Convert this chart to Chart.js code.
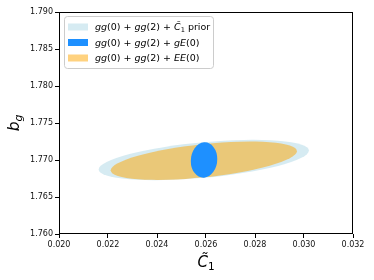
<!DOCTYPE html>
<html><head><meta charset="utf-8">
<script src="https://cdn.jsdelivr.net/npm/chart.js@4/dist/chart.umd.min.js"></script>
<style>html,body{margin:0;padding:0;background:#fff;} canvas{display:block;}</style>
</head><body>
<canvas id="c" width="374" height="280"></canvas>
<script>
// ---- data ----
const seriesLabels = ['gg(0) + gg(2) + C\u0303_1 prior', 'gg(0) + gg(2) + gE(0)', 'gg(0) + gg(2) + EE(0)'];
const seriesColors = ['rgba(173,216,230,0.5)', '#1e90ff', 'rgba(255,165,0,0.5)'];
const centerC1 = [0.02591, 0.02592, 0.02591];   // ellipse centre, C~1
const centerBg = [1.7700, 1.7700, 1.7699];      // ellipse centre, b_g
const halfC1 = [0.00429, 0.00054, 0.00380];     // half extent along C~1
const halfBg = [0.00273, 0.00239, 0.00259];     // half extent along b_g
const corr = [0.47, 0.05, 0.50];                // correlation coefficient
const drawOrder = [0, 2, 1];
const xTicks = [0.020, 0.022, 0.024, 0.026, 0.028, 0.030, 0.032];
const yTicks = [1.760, 1.765, 1.770, 1.775, 1.780, 1.785, 1.790];

const FONT = "'DejaVu Sans'";

function parseMath(s){
  const runs = [];
  const re = /(prior)|([A-Za-z]\u0303?)|(_\d)|([^A-Za-z_]+)/g;
  let m;
  while((m = re.exec(s))){
    if(m[1]) runs.push({t:m[1], it:false});
    else if(m[2]) runs.push({t:m[2], it:true});
    else if(m[3]) runs.push({t:m[3].slice(1), it:false, sub:true});
    else runs.push({t:m[4], it:false});
  }
  return runs;
}
function drawRuns(ctx, runs, x, y, size, color, measureOnly){
  let cx = x;
  for(const r of runs){
    const fs = r.sub ? size*0.7 : size;
    ctx.font = (r.it ? 'italic ' : '') + fs + 'px ' + FONT;
    const w = ctx.measureText(r.t).width;
    if(!measureOnly){
      ctx.fillStyle = color;
      ctx.fillText(r.t, cx, r.sub ? y + size*0.22 : y);
    }
    cx += w;
  }
  return cx - x;
}

const ellipsePlugin = {
  id: 'ellipses',
  beforeDatasetsDraw(chart){
    const {ctx, chartArea:a, scales:{x, y}} = chart;
    ctx.save();
    ctx.beginPath(); ctx.rect(a.left, a.top, a.right-a.left, a.bottom-a.top); ctx.clip();
    drawOrder.forEach(i => {
      const px = x.getPixelForValue(centerC1[i]);
      const py = y.getPixelForValue(centerBg[i]);
      const kx = x.getPixelForValue(centerC1[i] + halfC1[i]) - px;
      const ky = y.getPixelForValue(centerBg[i] + halfBg[i]) - py;
      const r = corr[i];
      ctx.save();
      ctx.transform(kx, ky*r, 0, ky*Math.sqrt(1-r*r), px, py);
      ctx.beginPath(); ctx.arc(0, 0, 1, 0, Math.PI*2);
      ctx.restore();
      ctx.fillStyle = seriesColors[i];
      ctx.fill();
    });
    ctx.restore();
  }
};

const framePlugin = {
  id: 'frame',
  afterDraw(chart){
    const {ctx, chartArea:a} = chart;
    ctx.save();
    // box
    ctx.strokeStyle = '#000'; ctx.lineWidth = 1;
    ctx.strokeRect(Math.round(a.left)+0.5, Math.round(a.top)+0.5, Math.round(a.right-a.left)-1, Math.round(a.bottom-a.top)-1);
    // legend
    const lx = 64.5, ly = 16.5, lw = 149, lh = 52, rad = 3;
    ctx.beginPath();
    ctx.moveTo(lx+rad, ly); ctx.lineTo(lx+lw-rad, ly); ctx.arcTo(lx+lw, ly, lx+lw, ly+rad, rad);
    ctx.lineTo(lx+lw, ly+lh-rad); ctx.arcTo(lx+lw, ly+lh, lx+lw-rad, ly+lh, rad);
    ctx.lineTo(lx+rad, ly+lh); ctx.arcTo(lx, ly+lh, lx, ly+lh-rad, rad);
    ctx.lineTo(lx, ly+rad); ctx.arcTo(lx, ly, lx+rad, ly, rad); ctx.closePath();
    ctx.fillStyle = 'rgba(255,255,255,0.8)'; ctx.fill();
    ctx.strokeStyle = '#cccccc'; ctx.stroke();
    ctx.textBaseline = 'alphabetic'; ctx.textAlign = 'left';
    seriesLabels.forEach((lab, i) => {
      const cy = 27 + i*15.5;
      ctx.fillStyle = seriesColors[i];
      ctx.fillRect(68, cy-3.5, 20, 7);
      drawRuns(ctx, parseMath(lab), 95, cy + 3.2, 9.5, '#000');
    });
    // x title
    const xr = [{t:'C\u0303', it:true}, {t:'1', sub:true}];
    const w = drawRuns(ctx, xr, 0, 0, 15, '#000', true);
    drawRuns(ctx, xr, (a.left + a.right)/2 - w/2, 267, 15, '#000');
    // y title
    ctx.translate(19, (a.top + a.bottom)/2);
    ctx.rotate(-Math.PI/2);
    const yr = [{t:'b', it:true}, {t:'g', it:true, sub:true}];
    const wy = drawRuns(ctx, yr, 0, 0, 15.5, '#000', true);
    drawRuns(ctx, yr, -wy/2, 0, 15.5, '#000');
    ctx.restore();
  }
};

const tickFont = {family: FONT, size: 8};
new Chart(document.getElementById('c'), {
  type: 'scatter',
  data: {
    datasets: seriesLabels.map((l, i) => ({
      label: l,
      data: [{x: centerC1[i], y: centerBg[i]}],
      pointRadius: 0,
      backgroundColor: seriesColors[i]
    }))
  },
  options: {
    responsive: false,
    devicePixelRatio: 1,
    animation: false,
    layout: {padding: {top: 12, right: 21, left: 0, bottom: 0}},
    plugins: {legend: {display: false}, tooltip: {enabled: false}},
    scales: {
      x: {
        type: 'linear', min: xTicks[0], max: xTicks[xTicks.length-1],
        afterBuildTicks: s => { s.ticks = xTicks.map(v => ({value: v})); },
        afterFit: s => { s.height = 46; },
        ticks: {callback: v => Number(v).toFixed(3), font: tickFont, color: '#111', padding: 2, maxRotation: 0, autoSkip: false},
        grid: {display: true, drawOnChartArea: false, drawTicks: true, tickLength: 4, color: '#000'},
        border: {display: false}
      },
      y: {
        type: 'linear', min: yTicks[0], max: yTicks[yTicks.length-1],
        afterBuildTicks: s => { s.ticks = yTicks.map(v => ({value: v})); },
        afterFit: s => { s.width = 59; },
        ticks: {callback: v => Number(v).toFixed(3), font: tickFont, color: '#111', padding: 2, autoSkip: false},
        grid: {display: true, drawOnChartArea: false, drawTicks: true, tickLength: 4, color: '#000'},
        border: {display: false}
      }
    }
  },
  plugins: [ellipsePlugin, framePlugin]
});
</script>
</body></html>
